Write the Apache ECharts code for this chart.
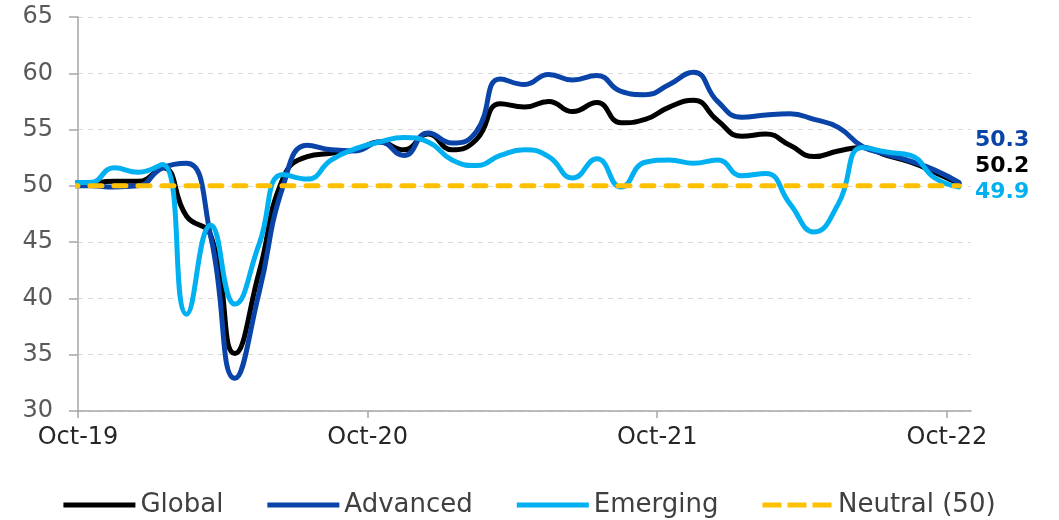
<!DOCTYPE html>
<html>
<head>
<meta charset="utf-8">
<script src="https://cdn.jsdelivr.net/npm/echarts@6/dist/echarts.min.js"></script>
<style>html,body{margin:0;padding:0;background:#fff}#c{width:1059px;height:520px}</style>
</head>
<body>
<div id="c"></div>
<script>
// Monthly observations (plotted mid-month); Sep-19 lies just before the axis start and is clipped
const months = ['Sep-19','Oct-19','Nov-19','Dec-19','Jan-20','Feb-20','Mar-20','Apr-20','May-20','Jun-20','Jul-20','Aug-20','Sep-20',
  'Oct-20','Nov-20','Dec-20','Jan-21','Feb-21','Mar-21','Apr-21','May-21','Jun-21','Jul-21','Aug-21','Sep-21',
  'Oct-21','Nov-21','Dec-21','Jan-22','Feb-22','Mar-22','Apr-22','May-22','Jun-22','Jul-22','Aug-22','Sep-22','Oct-22'];

const globalPMI = [49.9,50.2,50.4,50.4,51.6,47.3,45.6,35.1,42.3,50.7,52.6,52.9,53.2,
  53.9,53.2,54.6,53.2,54.1,57.3,57.0,57.5,56.6,57.4,55.6,55.9,
  57.0,57.6,55.8,54.4,54.6,53.6,52.6,53.1,53.4,52.7,52.1,51.2,50.2];

const advancedPMI = [50.0,50.0,49.9,50.0,51.6,52.0,45.5,32.9,40.5,50.0,53.6,53.2,53.1,
  53.9,52.7,54.7,53.8,54.8,59.5,59.0,59.9,59.4,59.8,58.4,58.1,
  59.0,60.1,57.5,56.1,56.3,56.4,55.9,55.2,53.5,52.8,52.2,51.4,50.3];

const emergingPMI = [50.3,50.3,51.6,51.2,51.9,38.6,46.5,39.5,44.8,51.0,50.6,52.3,53.3,
  53.9,54.3,53.9,52.3,51.8,52.7,53.2,52.6,50.7,52.4,49.9,52.1,
  52.3,52.0,52.3,50.9,51.1,48.4,45.9,48.4,53.4,53.0,52.7,50.7,49.9];

const neutralLine = [50,50,50,50,50,50,50,50,50,50,50,50,50,
  50,50,50,50,50,50,50,50,50,50,50,50,
  50,50,50,50,50,50,50,50,50,50,50,50,50];

const tickLabels = ['Oct-19','Oct-20','Oct-21','Oct-22'];
const tickPositions = [0, 12, 24, 36];
const seriesNames = ['Global','Advanced','Emerging','Neutral (50)'];

// months since 1 Oct 2019, observations at mid-month
function pts(vals) { return vals.map((v, i) => [i - 0.5, v]); }

const FONT = 'DejaVu Sans';
const solidIcon = 'path://M0,0H72V5H0Z';
const dashIcon = 'path://M0,0H19V5H0Z M25,0H44V5H25Z M50,0H69V5H50Z';

function lineSeries(name, vals, color, labelDy) {
  return {
    name: name, type: 'line', data: pts(vals), smooth: 0.5,
    symbol: 'none', showSymbol: false, clip: true,
    lineStyle: { width: 5, color: color, cap: 'round', join: 'round' },
    itemStyle: { color: color },
    endLabel: {
      show: true, color: color, fontFamily: FONT, fontWeight: 'bold', fontSize: 22,
      distance: 0, offset: [16, labelDy],
      formatter: p => Number(p.value[1]).toFixed(1)
    },
    emphasis: { disabled: true }
  };
}

const chart = echarts.init(document.getElementById('c'), null, { renderer: 'canvas' });
chart.setOption({
  animation: false,
  backgroundColor: '#ffffff',
  textStyle: { fontFamily: FONT },
  grid: { left: 78, right: 88, top: 17, bottom: 109, containLabel: false },
  legend: {
    left: 'center', top: 487, itemWidth: 72, itemHeight: 5, itemGap: 44,
    textStyle: { fontSize: 26, color: '#404040', fontFamily: FONT },
    data: [
      { name: seriesNames[0], icon: solidIcon },
      { name: seriesNames[1], icon: solidIcon },
      { name: seriesNames[2], icon: solidIcon },
      { name: seriesNames[3], icon: dashIcon }
    ]
  },
  xAxis: {
    type: 'value', min: 0, max: 37,
    splitLine: { show: false },
    axisLine: { show: true, lineStyle: { color: '#A6A6A6', width: 1.5 } },
    axisTick: { show: true, customValues: tickPositions, length: 7, lineStyle: { color: '#A6A6A6', width: 1.5 } },
    axisLabel: {
      customValues: tickPositions, fontSize: 24, color: '#262626', margin: 15, fontFamily: FONT,
      formatter: v => { const i = tickPositions.indexOf(v); return i >= 0 ? tickLabels[i] : ''; }
    }
  },
  yAxis: {
    type: 'value', min: 30, max: 65, interval: 5,
    axisLine: { show: true, lineStyle: { color: '#A6A6A6', width: 1.5 } },
    axisTick: { show: true, length: 9, lineStyle: { color: '#A6A6A6', width: 1.5 } },
    axisLabel: { fontSize: 24, color: '#595959', margin: 25, fontFamily: FONT },
    splitLine: { show: true, lineStyle: { color: '#D9D9D9', type: [5, 5], width: 1 } }
  },
  series: [
    lineSeries(seriesNames[0], globalPMI, '#000000', -17),
    lineSeries(seriesNames[1], advancedPMI, '#0A44A8', -42),
    lineSeries(seriesNames[2], emergingPMI, '#00B0F0', 5),
    {
      name: seriesNames[3], type: 'line', data: pts(neutralLine),
      symbol: 'none', showSymbol: false, clip: true,
      lineStyle: { width: 5, color: '#FFC000', type: [12, 12], cap: 'round' },
      itemStyle: { color: '#FFC000' },
      emphasis: { disabled: true }
    }
  ]
});
</script>
</body>
</html>
